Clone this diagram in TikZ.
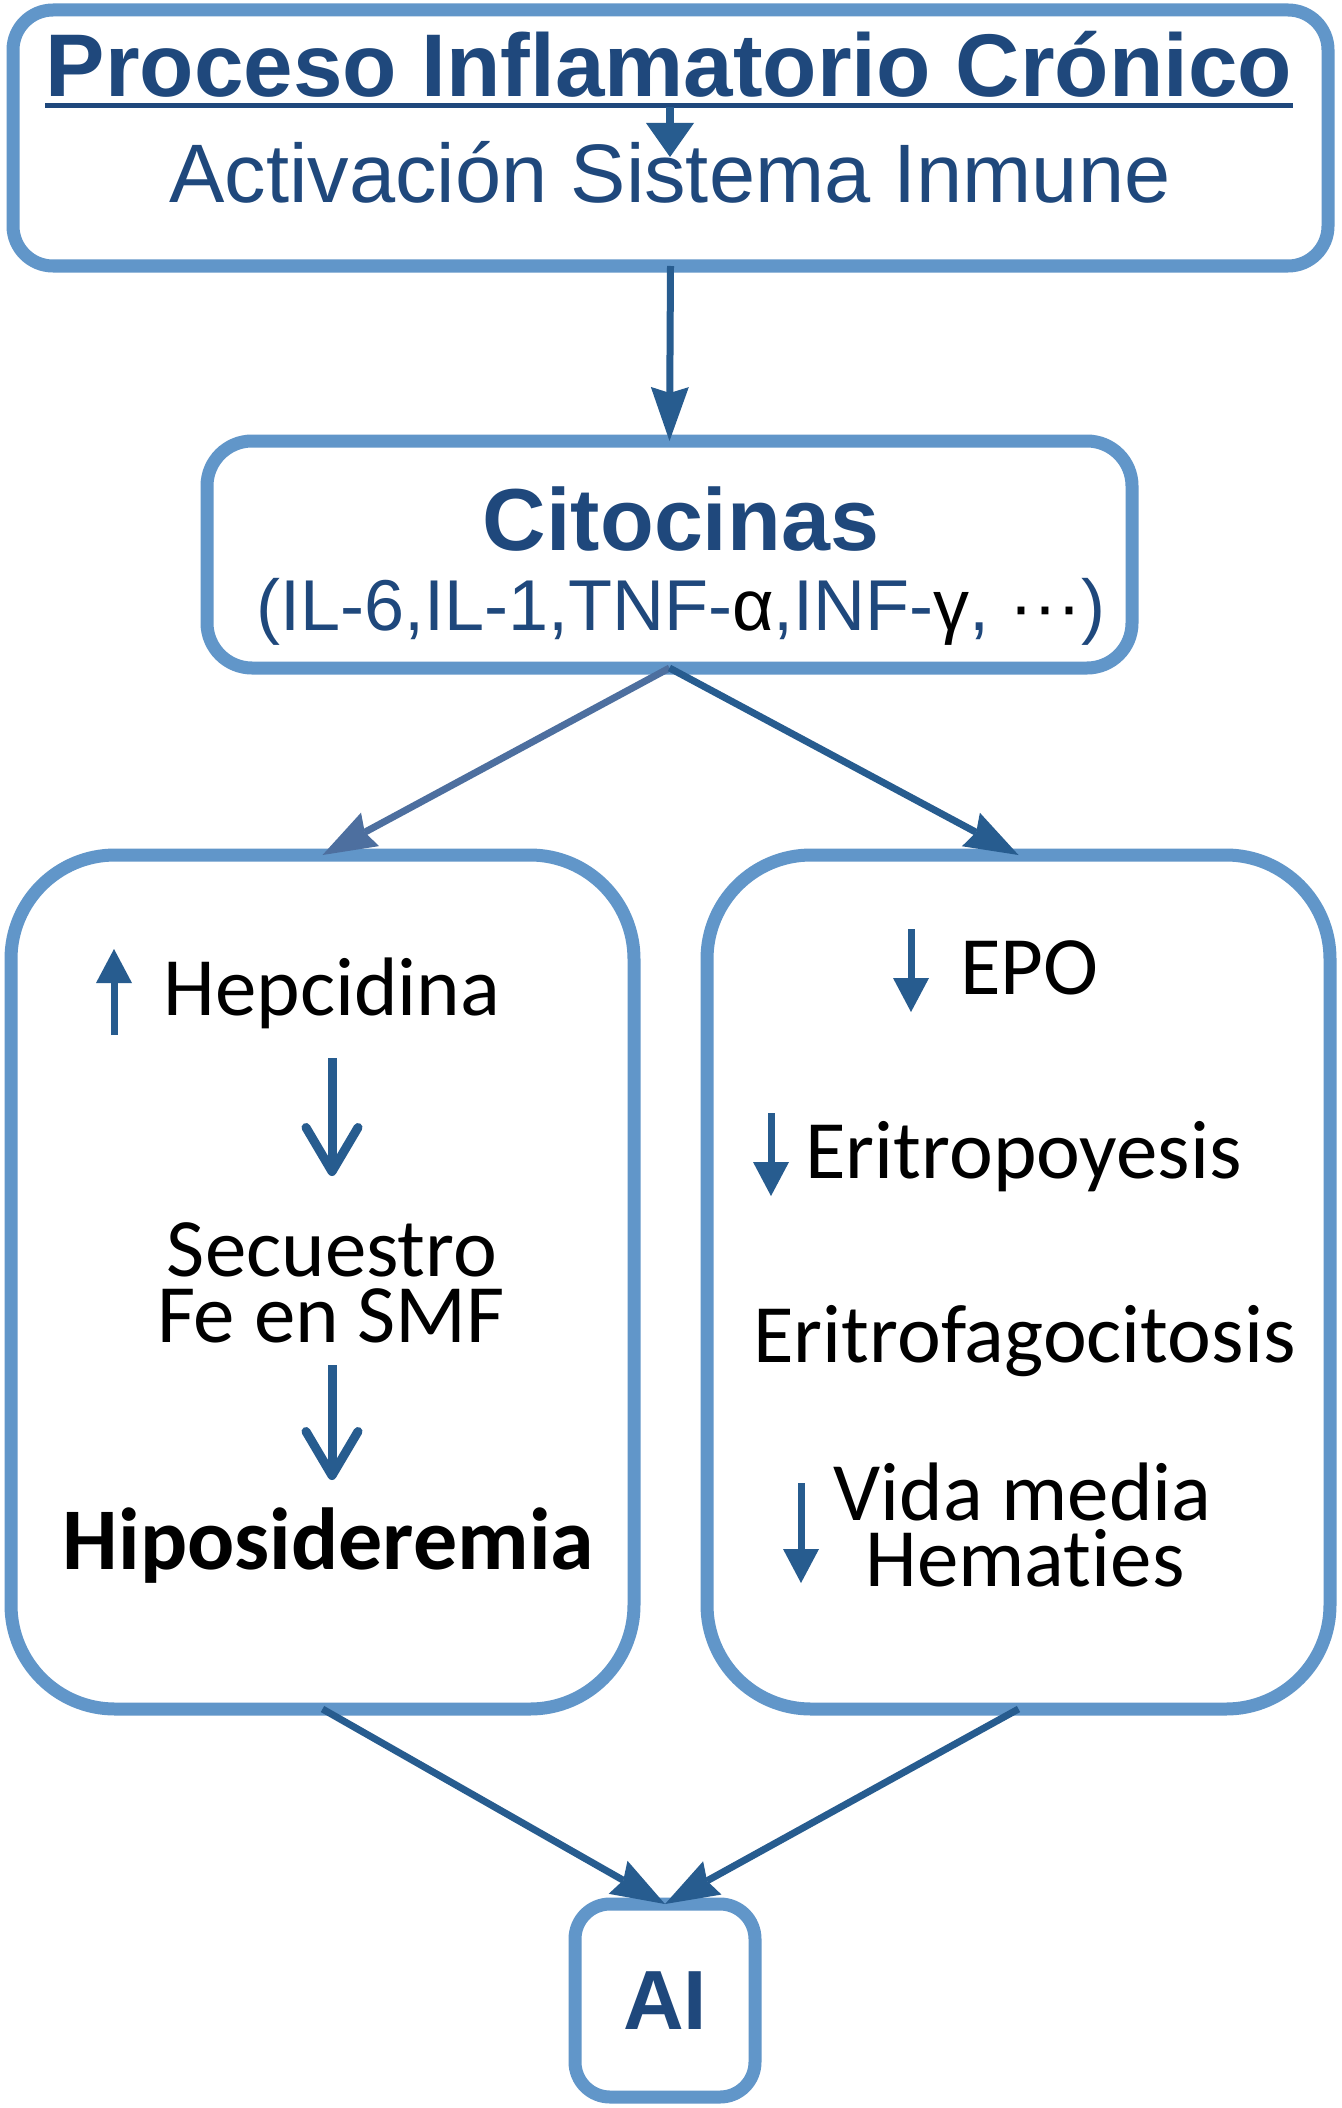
\documentclass[tikz,border=0pt]{standalone}
\usepackage{fontspec}
\setmainfont{Liberation Sans}
\newfontfamily\calfont[Ligatures=NoCommon,RawFeature=-clig,RawFeature=-dlig]{Carlito}
\usetikzlibrary{arrows.meta}
\definecolor{boxblue}{HTML}{6196C9}
\definecolor{txtblue}{HTML}{1F487C}
\definecolor{arrblue}{HTML}{275C8F}
\definecolor{arrblueL}{HTML}{4D6F9F}
\begin{document}
\begin{tikzpicture}[x=0.5pt,y=-0.5pt,
  box/.style={draw=boxblue, line width=6.5pt, fill=white, inner sep=0pt, outer sep=0pt},
  mainarr/.style={draw=arrblue, fill=arrblue, line width=3.5pt, -{Stealth[length=27pt,width=19pt,inset=3pt,line width=0pt]}},
  smallarr/.style={draw=arrblue, line width=3.5pt, -{Triangle[length=17pt,width=18pt,line width=0pt]}},
  titlearr/.style={draw=arrblue, line width=4pt, -{Triangle[length=17pt,width=24pt,line width=0pt]}},
  chev/.style={draw=arrblue, line width=4.5pt, -{Straight Barb[length=22pt,width=26pt,round]}},
  bluetxt/.style={text=txtblue, inner sep=0pt, anchor=base},
  caltxt/.style={font=\calfont\fontsize{41.5pt}{33pt}\selectfont, text=black, inner sep=0pt, anchor=base},
]
\useasboundingbox[fill=white] (0,0) rectangle (1341,2108);

% boxes
\node[box, rounded corners=20pt, minimum width=657.5pt, minimum height=128pt] (top) at (670.5,138) {};
\node[box, rounded corners=22.5pt, minimum width=462.5pt, minimum height=113.5pt] (cito) at (669.5,554.5) {};
\node[box, rounded corners=52pt, minimum width=311.5pt, minimum height=427pt] (left) at (322.5,1282) {};
\node[box, rounded corners=52pt, minimum width=311.5pt, minimum height=427pt] (right) at (1018.5,1282) {};
\node[box, rounded corners=17.5pt, minimum width=90pt, minimum height=96.5pt,
      font=\bfseries\fontsize{42pt}{48pt}\selectfont, text=txtblue] (ai) at (665,2000.5) {AI};

% top box texts
\node[bluetxt, font=\bfseries\fontsize{44.5pt}{50pt}\selectfont] (title) at (669,97) {Proceso Inflamatorio Crónico};
\coordinate (ul) at (0,105.5);
\draw[draw=txtblue, line width=2.5pt] (title.base west |- ul) -- (title.base east |- ul);
\node[bluetxt, font=\fontsize{41.5pt}{48pt}\selectfont] (act) at (670,203) {Activación Sistema Inmune};
\coordinate (ta1) at (670,107);
\coordinate (ta2) at (670,157);
\draw[titlearr] (ta1) -- (ta2);

% citocinas texts
\node[bluetxt, font=\bfseries\fontsize{44pt}{50pt}\selectfont] (citot) at (681,550) {Citocinas};
\node[bluetxt, font=\fontsize{36pt}{42pt}\selectfont] (citol) at (681,630)
  {(IL-6,IL-1,TNF-{\color{black}α},INF-{\color{black}γ}, {\color{black}···})};

% left box
\coordinate (u1) at (114,1035);
\coordinate (u2) at (114,949);
\draw[smallarr] (u1) -- (u2);
\node[caltxt, anchor=base west] (hep) at (163,1015) {Hepcidina};
\coordinate (c1s) at (332,1058);
\coordinate (c1e) at (332,1176);
\draw[chev] (c1s) -- (c1e);
\node[caltxt] (sec1) at (332,1276) {Secuestro};
\node[caltxt] (sec2) at (331,1342) {Fe en SMF};
\coordinate (c2s) at (332,1365);
\coordinate (c2e) at (332,1480);
\draw[chev] (c2s) -- (c2e);
\node[caltxt, font=\calfont\bfseries\fontsize{44pt}{50pt}\selectfont] (hipo) at (328.5,1569) {Hiposideremia};

% right box
\coordinate (e1) at (911,929);
\coordinate (e2) at (911,1012);
\draw[smallarr] (e1) -- (e2);
\node[caltxt, anchor=base west] (epo) at (960,994) {EPO};
\coordinate (p1) at (771,1113);
\coordinate (p2) at (771,1196);
\draw[smallarr] (p1) -- (p2);
\node[caltxt, anchor=base west] (eri) at (805,1178) {Eritropoyesis};
\node[caltxt] (fago) at (1024.5,1362) {Eritrofagoci\kern0pt tosis};
\coordinate (v1) at (801,1483);
\coordinate (v2) at (801,1583);
\draw[smallarr] (v1) -- (v2);
\node[caltxt] (vida) at (1022.5,1520) {Vida media};
\node[caltxt] (hema) at (1025,1586) {Hemat\kern0pt ies};

% connectors
\draw[mainarr] (top.south) -- (cito.north);
\draw[mainarr, draw=arrblueL, fill=arrblueL] (cito.south) -- (left.north);
\draw[mainarr] (cito.south) -- (right.north);
\draw[mainarr] (left.south) -- (ai.north);
\draw[mainarr] (right.south) -- (ai.north);
\end{tikzpicture}
\end{document}
